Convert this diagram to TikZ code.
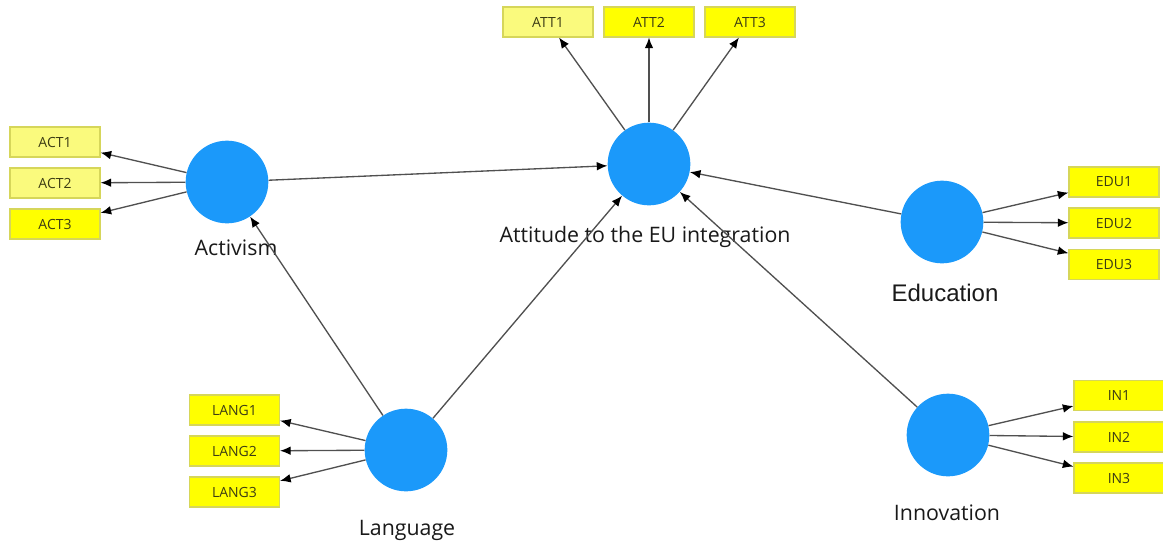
\documentclass[tikz,border=0pt]{standalone}
\usepackage{fontspec}
\setmainfont{Open Sans}
\newfontfamily\edufont{Liberation Sans}
\usetikzlibrary{arrows.meta}
\definecolor{lvblue}{RGB}{27,153,250}
\definecolor{indyellow}{RGB}{255,255,0}
\definecolor{indborder}{RGB}{214,214,90}
\definecolor{paleyellow}{RGB}{250,250,125}
\definecolor{linegray}{RGB}{80,80,80}
\definecolor{indtext}{RGB}{60,60,20}
\begin{document}
\begin{tikzpicture}[x=0.75pt,y=-0.75pt,
 latent/.style={circle,fill=lvblue,draw=none,minimum size=62pt,inner sep=0pt},
 indicator/.style={rectangle,fill=indyellow,draw=indborder,line width=0.8pt,minimum width=67.5pt,minimum height=22.5pt,inner sep=0pt,font=\fontsize{10.5}{12}\selectfont,text=indtext},
 pale/.style={fill=paleyellow},
 lvlabel/.style={font=\fontsize{16}{18}\selectfont,text=black!90},
 link/.style={draw=linegray,line width=1pt,-{Latex[length=8pt,width=6.5pt,color=black]}}
]
\useasboundingbox (0,0) rectangle (1163,547);
% latent variables
\node[latent] (act) at (227,182) {};
\node[latent] (att) at (649,164) {};
\node[latent] (edu) at (942,222) {};
\node[latent] (lang) at (406,450) {};
\node[latent] (inn) at (948,435) {};
% labels
\node[lvlabel] (actl) at (236,248) {Activism};
\node[lvlabel] (attl) at (645,237) {Attitude to the EU integration};
\node[lvlabel,font=\edufont\fontsize{18}{20}\selectfont] (edul) at (945,293) {Education};
\node[lvlabel] (langl) at (407,530) {Language};
\node[lvlabel] (innl) at (947,513) {Innovation};
% indicators
\node[indicator,pale] (act1) at (55,142) {ACT1};
\node[indicator,pale] (act2) at (55,183) {ACT2};
\node[indicator] (act3) at (55,224) {ACT3};
\node[indicator,pale] (att1) at (548,22) {ATT1};
\node[indicator] (att2) at (649,22) {ATT2};
\node[indicator] (att3) at (750,22) {ATT3};
\node[indicator] (edu1) at (1114,182) {EDU1};
\node[indicator] (edu2) at (1114,223) {EDU2};
\node[indicator] (edu3) at (1114,264.5) {EDU3};
\node[indicator] (lang1) at (234.5,410) {LANG1};
\node[indicator] (lang2) at (234.5,451) {LANG2};
\node[indicator] (lang3) at (234.5,492) {LANG3};
\node[indicator] (in1) at (1119,395.5) {IN1};
\node[indicator] (in2) at (1119,437) {IN2};
\node[indicator] (in3) at (1119,478) {IN3};
% outer model
\foreach \i in {1,2,3}{
  \draw[link] (act) -- (act\i);
  \draw[link] (att) -- (att\i);
  \draw[link] (edu) -- (edu\i);
  \draw[link] (lang) -- (lang\i);
  \draw[link] (inn) -- (in\i);
}
% inner model
\draw[link] (act) -- (att);
\draw[link] (edu) -- (att);
\draw[link] (lang) -- (act);
\draw[link] (lang) -- (att);
\draw[link] (inn) -- (att);
\end{tikzpicture}
\end{document}
